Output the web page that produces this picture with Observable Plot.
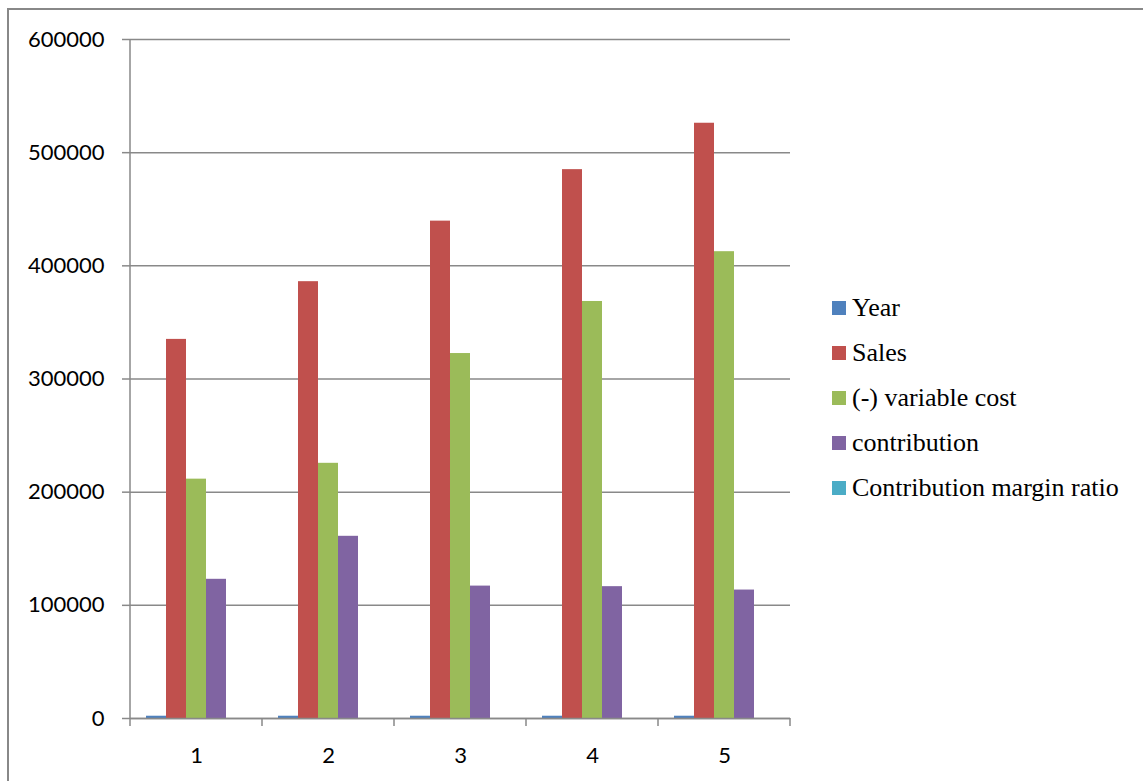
<!DOCTYPE html>
<html>
<head>
<meta charset="utf-8">
<script src="https://cdn.jsdelivr.net/npm/d3@7"></script>
<script src="https://cdn.jsdelivr.net/npm/@observablehq/plot@0.6"></script>
<style>
  html, body { margin: 0; padding: 0; background: #fff; overflow: hidden; }
  #wrap { position: relative; width: 1143px; height: 781px; overflow: hidden; }
  #border { position: absolute; left: 7px; top: 8px; width: 1300px; height: 900px;
            border: 2px solid #888; box-sizing: border-box; pointer-events: none; }
  #chart { position: absolute; left: 0; top: 0; }
  #legend { position: absolute; left: 832px; top: 285px;
            font-family: "Liberation Serif", "Times New Roman", serif; font-size: 26px; color: #000; }
  .row { display: flex; align-items: center; height: 45px; white-space: nowrap; }
  .sw { width: 14px; height: 14px; margin-right: 6px; flex: none; }
</style>
</head>
<body>
<div id="wrap">
  <div id="border"></div>
  <div id="chart"></div>
  <div id="legend"></div>
</div>
<script>
// Five-year profitability figures
const categories = ["1", "2", "3", "4", "5"];
const seriesNames = ["Year", "Sales", "(-) variable cost", "contribution", "Contribution margin ratio"];
const seriesColors = ["#4f81bd", "#c0504d", "#9bbb59", "#8064a2", "#4bacc6"];

const year = [2011, 2012, 2013, 2014, 2015];
const sales = [335000, 386000, 439500, 485000, 526000];
const variableCost = [211500, 225500, 322500, 368500, 412500];
const contribution = [123000, 161000, 117000, 116500, 113500];
const marginRatio = [0.37, 0.42, 0.27, 0.24, 0.22];

const yTicks = [0, 100000, 200000, 300000, 400000, 500000, 600000];

// Long table: one row per (category, series)
const seriesValues = [year, sales, variableCost, contribution, marginRatio];
const data = [];
categories.forEach((c, i) => {
  seriesNames.forEach((s, j) => data.push({category: c, series: s, value: seriesValues[j][i]}));
});

const axisGray = "#898989";

const chart = Plot.plot({
  width: 1143,
  height: 781,
  marginLeft: 130,
  marginRight: 353,
  marginTop: 39,
  marginBottom: 63,
  fx: {domain: categories, padding: 0, label: null},
  x: {domain: seriesNames, padding: 0, paddingOuter: 0.75, axis: null},
  y: {domain: [0, 600000], label: null},
  color: {domain: seriesNames, range: seriesColors},
  style: {fontFamily: "Lato, 'Open Sans', sans-serif", fontSize: "22px", color: "#000", background: "transparent"},
  marks: [
    Plot.gridY(yTicks, {stroke: axisGray, strokeOpacity: 1, strokeWidth: 1.5}),
    Plot.axisY({ticks: yTicks, tickSize: 8, tickPadding: 18, tickFormat: d => String(d),
                stroke: axisGray, strokeWidth: 1.5, fill: "#000", label: null, fontSize: 22}),
    Plot.axisFx({anchor: "bottom", tickSize: 0, tickPadding: 29, label: null, fill: "#000", fontSize: 22}),
    Plot.barY(data, {fx: "category", x: "series", y: "value", fill: "series"}),
    Plot.ruleY([0], {stroke: axisGray, strokeWidth: 1.5})
  ]
});

// Axis line on the left and category-boundary ticks along the bottom
const fx = chart.scale("fx");
const y = chart.scale("y");
const y0 = y.apply(0), yTop = y.apply(600000);
const bounds = categories.map(c => fx.apply(c));
bounds.push(fx.apply(categories[categories.length - 1]) + fx.bandwidth);
const g = d3.select(chart).append("g")
  .attr("stroke", axisGray).attr("stroke-width", 1.5);
g.append("line").attr("x1", bounds[0]).attr("x2", bounds[0]).attr("y1", yTop).attr("y2", y0);
g.selectAll("line.bt").data(bounds).join("line").attr("class", "bt")
  .attr("x1", d => d).attr("x2", d => d).attr("y1", y0).attr("y2", y0 + 8);

document.getElementById("chart").append(chart);

// Legend
const legend = d3.select("#legend");
seriesNames.forEach((s, i) => {
  const row = legend.append("div").attr("class", "row");
  row.append("div").attr("class", "sw").style("background", seriesColors[i]);
  row.append("span").text(s);
});
</script>
</body>
</html>
